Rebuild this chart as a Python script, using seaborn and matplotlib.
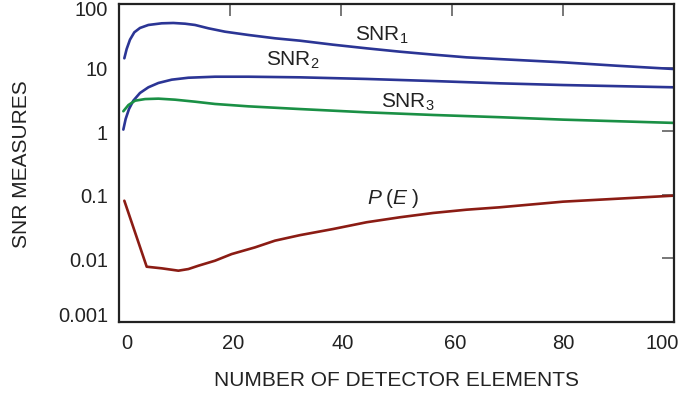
import matplotlib
matplotlib.use("Agg")
import matplotlib.pyplot as plt
import seaborn as sns
import pandas as pd
from matplotlib.ticker import FixedLocator, NullLocator
from matplotlib.transforms import ScaledTranslation

# ---- data ----
snr1_x = [0.96, 1.38, 1.98, 2.76, 3.78, 5.29, 7.7, 9.8, 11.9, 13.7, 16.1, 19.1, 23.3,
          28.1, 32.6, 38.6, 44.6, 50.6, 56.6, 62.6, 68.6, 80, 89.7, 100]
snr1_y = [14.0, 19.6, 27.5, 35.9, 42, 46.8, 49.7, 50.3, 49, 46.8, 41.5, 36.7, 32.6,
          28.9, 26.5, 22.9, 20.1, 17.8, 16.0, 14.5, 13.6, 12.1, 10.7, 9.5]

snr2_x = [0.78, 1.2, 1.8, 2.58, 3.78, 5.29, 7.1, 9.5, 12.5, 17.3, 23.3, 32.6, 44.6,
          56.6, 68.6, 80, 100]
snr2_y = [1.06, 1.56, 2.23, 3.02, 3.99, 4.9, 5.73, 6.46, 6.93, 7.19, 7.19, 7.03, 6.63,
          6.15, 5.66, 5.32, 4.9]

snr3_x = [0.78, 1.7, 2.9, 4.7, 7.1, 10.1, 13.7, 17.3, 23.3, 32.6, 44.6, 56.6, 68.6, 80, 100]
snr3_y = [2.06, 2.58, 3.02, 3.2, 3.25, 3.13, 2.91, 2.68, 2.46, 2.23, 1.98, 1.8, 1.66, 1.52, 1.35]

pe_x = [0.96, 4.99, 7.7, 10.7, 12.5, 14.3, 17.3, 20.3, 24.5, 28.1, 32.6, 38.6, 44.6,
        50.6, 56.6, 62.6, 68.6, 80, 100]
pe_y = [0.0807, 0.0074, 0.00698, 0.00641, 0.0068, 0.00767, 0.0092, 0.0117, 0.0149,
        0.019, 0.0232, 0.029, 0.037, 0.0443, 0.0518, 0.0583, 0.0636, 0.078, 0.097]

x_ticks = [0, 20, 40, 60, 80, 100]
y_ticks = [0.001, 0.01, 0.1, 1, 10, 100]
y_tick_labels = ["0.001", "0.01", "0.1", "1", "10", "100"]

colors = {"SNR1": "#2b3595", "SNR2": "#2b3595", "SNR3": "#1a9045", "PE": "#8b1c14"}

frames = []
for name, xs, ys in [("SNR1", snr1_x, snr1_y), ("SNR2", snr2_x, snr2_y),
                     ("SNR3", snr3_x, snr3_y), ("PE", pe_x, pe_y)]:
    frames.append(pd.DataFrame({"x": xs, "y": ys, "series": name}))
df = pd.concat(frames, ignore_index=True)

sns.set_theme(style="white")
plt.rcParams["font.family"] = ["Liberation Sans", "DejaVu Sans"]
plt.rcParams["mathtext.fontset"] = "custom"
plt.rcParams["mathtext.rm"] = "Liberation Sans"
plt.rcParams["mathtext.it"] = "Liberation Sans:italic"

fig = plt.figure(figsize=(6.8, 4.02), dpi=100)
ax = fig.add_axes([119 / 680, 1 - 323 / 402, 555 / 680, 318 / 402])

sns.lineplot(data=df, x="x", y="y", hue="series", palette=colors,
             estimator=None, sort=False, units="series", legend=False,
             linewidth=1.9, ax=ax)

ax.set_yscale("log")
ax.set_xlim(0, 100)
ax.set_ylim(0.001, 100)

ax.xaxis.set_major_locator(FixedLocator(x_ticks))
ax.xaxis.set_minor_locator(NullLocator())
ax.yaxis.set_major_locator(FixedLocator(y_ticks))
ax.yaxis.set_minor_locator(NullLocator())
ax.set_yticklabels(y_tick_labels)
ax.set_xticklabels([str(t) for t in x_ticks])

ax.tick_params(axis="both", which="major", direction="in", length=8.6,
               width=1.2, color="#606060", labelsize=14.5, labelcolor="#222222",
               top=True, right=True, pad=8)

for s in ax.spines.values():
    s.set_color("#222222")
    s.set_linewidth(1.6)

ax.set_xlabel("NUMBER OF DETECTOR ELEMENTS", fontsize=15, color="#222222", labelpad=13)
ax.set_ylabel("SNR MEASURES", fontsize=15, color="#222222", labelpad=19)

txt = dict(fontsize=15, color="#222222", ha="center", va="center")
ax.text(47.4, 33.7, r"SNR$_1$", **txt)
ax.text(31.4, 13.6, r"SNR$_2$", **txt)
ax.text(52.1, 3.0, r"SNR$_3$", **txt)
ax.text(49.4, 0.092, r"$P\;(E\;)$", **txt)

# small label nudges (pixels) to follow the reference placement
x_shift = [8, 3, 2, 3, 0, -12]
y_shift = [8, 0, 0, 0, 0, -4]
for lab, dx in zip(ax.get_xticklabels(), x_shift):
    lab.set_transform(lab.get_transform() + ScaledTranslation(dx / 100, 0, fig.dpi_scale_trans))
for lab, dy in zip(ax.get_yticklabels(), y_shift):
    lab.set_transform(lab.get_transform() + ScaledTranslation(0, dy / 100, fig.dpi_scale_trans))

fig.savefig("out.png", dpi=100)
